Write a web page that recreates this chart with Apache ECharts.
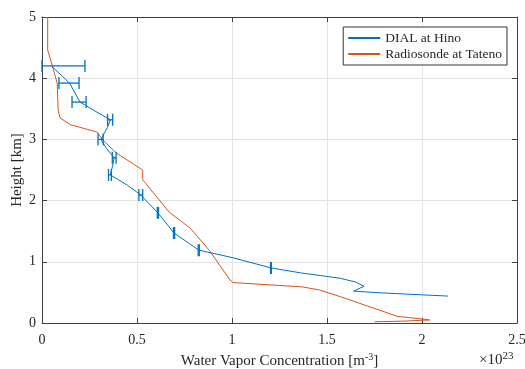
<!DOCTYPE html>
<html>
<head>
<meta charset="utf-8">
<script src="https://cdn.jsdelivr.net/npm/echarts@6/dist/echarts.min.js"></script>
<style>
  html, body { margin: 0; padding: 0; background: #fff; }
  #chart { width: 525px; height: 369px; }
</style>
</head>
<body>
<div id="chart"></div>
<script>
// DIAL at Hino profile (x in 1e23 m^-3, height in km)
const dialX = [0.05, 0.145, 0.2, 0.27, 0.36, 0.345, 0.31, 0.34, 0.38, 0.37, 0.36, 0.45, 0.52, 0.61, 0.695, 0.826, 1.0, 1.205, 1.36, 1.57, 1.65, 1.695, 1.64, 1.8, 2.0, 2.137]
const dialH = [4.2, 3.92, 3.61, 3.48, 3.32, 3.2, 3.0, 2.85, 2.7, 2.55, 2.42, 2.25, 2.09, 1.8, 1.47, 1.19, 1.07, 0.9, 0.82, 0.73, 0.67, 0.6, 0.52, 0.49, 0.46, 0.44]

// error bars of the DIAL profile
const errH = [4.2, 3.92, 3.61, 3.32, 3.0, 2.7, 2.42, 2.09, 1.8, 1.47, 1.19, 0.9]
const errLow = [0, 0.089, 0.158, 0.345, 0.295, 0.37, 0.35, 0.51, 0.607, 0.692, 0.822, 1.203]
const errHigh = [0.226, 0.195, 0.232, 0.372, 0.322, 0.39, 0.365, 0.53, 0.613, 0.698, 0.828, 1.207]

// Radiosonde at Tateno profile
const sondeX = [0.03, 0.03, 0.05, 0.08, 0.085, 0.095, 0.15, 0.29, 0.32, 0.39, 0.53, 0.53, 0.67, 0.78, 0.88, 0.99, 1.005, 1.37, 1.46, 1.57, 1.87, 2.04, 1.9, 1.75]
const sondeH = [5.0, 4.46, 4.25, 3.92, 3.48, 3.35, 3.24, 3.12, 2.99, 2.78, 2.5, 2.34, 1.81, 1.55, 1.19, 0.7, 0.66, 0.59, 0.54, 0.43, 0.11, 0.05, 0.03, 0.02]

const xTicks = [0, 0.5, 1, 1.5, 2, 2.5]
const yTicks = [0, 1, 2, 3, 4, 5]

const blue = '#0072BD'
const orange = '#D95319'
const font = 'Liberation Serif'

const chart = echarts.init(document.getElementById('chart'))

const axisCommon = {
  axisLine: { show: true, onZero: false, lineStyle: { color: '#404040', width: 1 } },
  axisTick: { show: true, inside: true, length: 5, lineStyle: { color: '#404040' } },
  axisLabel: { show: false },
  splitLine: { show: false }
}

const option = {
  animation: false,
  grid: { left: 42, right: 8, top: 17, bottom: 46, outerBoundsMode: 'none' },
  legend: {
    data: ['DIAL at Hino', 'Radiosonde at Tateno'],
    orient: 'vertical',
    right: 18,
    top: 27,
    itemWidth: 32,
    itemHeight: 2,
    itemGap: 2,
    padding: [4, 5, 4, 4],
    borderColor: '#333',
    borderWidth: 1,
    backgroundColor: '#fff',
    textStyle: { fontFamily: font, fontSize: 13.5, color: '#262626' }
  },
  xAxis: [
    {
      type: 'value', min: 0, max: 2.5, interval: 0.5,
      name: 'Water Vapor Concentration [m{sup|-3}]',
      nameLocation: 'middle', nameGap: 27,
      nameTextStyle: {
        fontFamily: font, fontSize: 15, color: '#262626',
        rich: { sup: { fontFamily: font, fontSize: 10, verticalAlign: 'top', padding: [0, 0, 8, 0], color: '#262626' } }
      },
      axisLine: { show: true, onZero: false, lineStyle: { color: '#404040' } },
      axisTick: { show: true, inside: true, length: 5, lineStyle: { color: '#404040' } },
      axisLabel: {
        fontFamily: font, fontSize: 14, color: '#262626', margin: 10,
        formatter: v => xTicks.includes(v) ? String(v) : ''
      },
      splitLine: { show: true, lineStyle: { color: '#e3e3e3' } }
    },
    Object.assign({ type: 'value', min: 0, max: 2.5, interval: 0.5, position: 'top' }, axisCommon)
  ],
  yAxis: [
    {
      type: 'value', min: 0, max: 5, interval: 1,
      name: 'Height [km]',
      nameLocation: 'middle', nameGap: 17, nameMoveOverlap: false,
      nameTextStyle: { fontFamily: font, fontSize: 15, color: '#262626' },
      axisLine: { show: true, onZero: false, lineStyle: { color: '#404040' } },
      axisTick: { show: true, inside: true, length: 5, lineStyle: { color: '#404040' } },
      axisLabel: {
        fontFamily: font, fontSize: 14, color: '#262626', margin: 6,
        formatter: v => yTicks.includes(v) ? String(v) : ''
      },
      splitLine: { show: true, lineStyle: { color: '#e3e3e3' } }
    },
    Object.assign({ type: 'value', min: 0, max: 5, interval: 1, position: 'right' }, axisCommon)
  ],
  graphic: [
    {
      type: 'text', left: 479, top: 351,
      style: {
        text: '×10{sup|23}',
        font: '15px "Liberation Serif"',
        fill: '#262626',
        rich: { sup: { fontFamily: font, fontSize: 11, verticalAlign: 'top', padding: [0, 0, 8, 0], fill: '#262626' } }
      }
    }
  ],
  series: [
    {
      name: 'Radiosonde at Tateno',
      type: 'line',
      data: sondeX.map((x, i) => [x, sondeH[i]]),
      symbol: 'none',
      lineStyle: { color: orange, width: 1 },
      itemStyle: { color: orange }
    },
    {
      name: 'DIAL at Hino',
      type: 'line',
      data: dialX.map((x, i) => [x, dialH[i]]),
      symbol: 'none',
      lineStyle: { color: blue, width: 1 },
      itemStyle: { color: blue },
      z: 3
    },
    {
      name: 'err',
      type: 'custom',
      z: 4,
      data: errH.map((h, i) => [errLow[i], errHigh[i], h]),
      renderItem: (params, api) => {
        const a = api.coord([api.value(0), api.value(2)])
        const b = api.coord([api.value(1), api.value(2)])
        const cap = 6
        const st = { stroke: blue, lineWidth: 1.3 }
        return {
          type: 'group',
          children: [
            { type: 'line', shape: { x1: a[0], y1: a[1], x2: b[0], y2: b[1] }, style: st },
            { type: 'line', shape: { x1: a[0], y1: a[1] - cap, x2: a[0], y2: a[1] + cap }, style: st },
            { type: 'line', shape: { x1: b[0], y1: b[1] - cap, x2: b[0], y2: b[1] + cap }, style: st }
          ]
        }
      }
    }
  ]
}

chart.setOption(option)
</script>
</body>
</html>
